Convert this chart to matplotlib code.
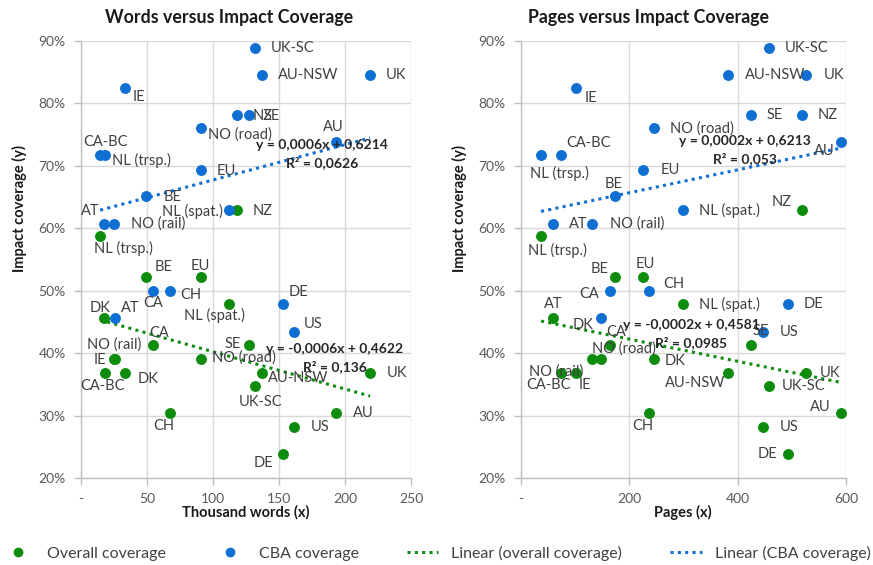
import numpy as np
import matplotlib
matplotlib.use("Agg")
import matplotlib.pyplot as plt
from matplotlib.lines import Line2D
from matplotlib.ticker import FuncFormatter

# ---------------- data ----------------
countries = ["UK", "AU", "US", "DE", "AU-NSW", "UK-SC", "SE", "NZ", "NL (spat.)",
             "NO (road)", "EU", "CH", "CA", "BE", "IE", "DK", "NO (rail)", "AT",
             "CA-BC", "NL (trsp.)"]
thousand_words = [219, 193, 161, 153.3, 137, 132, 127, 118, 111.9,
                  90.7, 90.7, 67.7, 54.3, 49.5, 33.6, 26, 25.3, 17.2,
                  18, 14.5]
pages = [527, 591, 446, 493, 383, 457, 425, 518, 299,
         245, 226, 236, 165, 173, 101, 148, 130.5, 59.7,
         74.5, 37]
cba_coverage = [0.845, 0.738, 0.434, 0.479, 0.845, 0.889, 0.782, 0.782, 0.629,
                0.760, 0.694, 0.500, 0.500, 0.651, 0.825, 0.456, 0.607, 0.607,
                0.717, 0.717]
overall_coverage = [0.368, 0.304, 0.282, 0.239, 0.368, 0.347, 0.413, 0.629, 0.478,
                    0.391, 0.522, 0.304, 0.413, 0.522, 0.368, 0.391, 0.391, 0.456,
                    0.368, 0.587]

# labels as displayed on the chart (per point, same order as countries)
words_cba_labels = ["UK", "AU", "US", "DE", "AU-NSW", "UK-SC", "SE", "NZ", "NL (spat.)",
                    "NO (road)", "EU", "CH", "CA", "BE", "IE", "AT", "NO (rail)", "AT",
                    "CA-BC", "NL (trsp.)"]
words_overall_labels = ["UK", "AU", "US", "DE", "AU-NSW", "UK-SC", "SE", "NZ", "NL (spat.)",
                        "NO (road)", "EU", "CH", "CA", "BE", "DK", "IE", "NO (rail)", "DK",
                        "CA-BC", "NL (trsp.)"]
pages_cba_labels = ["UK", "AU", "US", "DE", "AU-NSW", "UK-SC", "SE", "NZ", "NL (spat.)",
                    "NO (road)", "EU", "CH", "CA", "BE", "IE", "DK", "NO (rail)", "AT",
                    "CA-BC", "NL (trsp.)"]
pages_overall_labels = ["UK", "AU", "US", "DE", "AU-NSW", "UK-SC", "SE", "NZ", "NL (spat.)",
                        "DK", "EU", "CH", "CA", "BE", "IE", "NO (rail)", "NO (road)", "AT",
                        "CA-BC", "NL (trsp.)"]

eq_words_cba = ["y = 0,0006x + 0,6214", "R\u00b2 = 0,0626"]
eq_words_overall = ["y = -0,0006x + 0,4622", "R\u00b2 = 0,136"]
eq_pages_cba = ["y = 0,0002x + 0,6213", "R\u00b2 = 0,053"]
eq_pages_overall = ["y = -0,0002x + 0,4581", "R\u00b2 = 0,0985"]

# ---------------- style ----------------
GREEN = "#0E8C0E"
BLUE = "#0F6FD2"
TXT = "#404040"
TICK = "#595959"
GRID = "#D9D9D9"
SPINE = "#BFBFBF"
FONT = ["Lato", "DejaVu Sans"]
plt.rcParams["font.family"] = FONT
DOT = (0, (1.0, 1.4))

# label offsets in pixels (dx, dy down-positive) and alignment: 'l' left, 'r' right, 'c' center
off_words_cba = [(16, 0, 'l'), (-2, -15, 'c'), (10, -8, 'l'), (5, -12, 'l'), (16, 0, 'l'),
                 (16, 0, 'l'), (15, 1, 'l'), (16, 1, 'l'), (-6, 1, 'r'),
                 (7, 6, 'l'), (16, 1, 'l'), (10, 4, 'l'), (0, 12, 'c'), (17, 1, 'l'), (7, 9, 'l'),
                 (6, -10, 'l'), (17, 0, 'l'), (-4, -13, 'r'),
                 (1, -13, 'c'), (12, 5, 'l')]
off_words_overall = [(17, 0, 'l'), (17, 0, 'l'), (17, 0, 'l'), (-10, 9, 'r'), (6, 5, 'l'),
                     (5, 16, 'c'), (-8, -1, 'r'), (16, 1, 'l'), (-14, 11, 'c'),
                     (11, -1, 'l'), (0, -11, 'c'), (-7, 13, 'c'), (6, -12, 'c'), (17, -10, 'c'),
                     (12, 6, 'l'), (-9, 1, 'r'), (0, -14, 'c'), (-4, -10, 'c'),
                     (-2, 13, 'c'), (23, 12, 'c')]
off_pages_cba = [(17, 0, 'l'), (-6, 9, 'r'), (17, 0, 'l'), (16, 0, 'l'), (16, 0, 'l'),
                 (16, 0, 'l'), (15, 0, 'l'), (16, 0, 'l'), (16, 0, 'l'),
                 (16, 0, 'l'), (17, 0, 'l'), (14, -7, 'l'), (-11, 3, 'r'), (-1, -12, 'c'), (9, 10, 'l'),
                 (-8, 7, 'r'), (18, 0, 'l'), (16, 0, 'l'),
                 (5, -12, 'l'), (18, 18, 'c')]
off_pages_overall = [(13, 0, 'l'), (-10, -6, 'r'), (17, 0, 'l'), (-11, 0, 'r'), (-3, 10, 'r'),
                     (13, 0, 'l'), (10, -14, 'c'), (-10, -8, 'r'), (16, 0, 'l'),
                     (11, 2, 'l'), (2, -13, 'c'), (-6, 13, 'c'), (6, -13, 'c'), (-6, -8, 'r'), (9, 12, 'c'),
                     (-45, 13, 'c'), (32, -10, 'c'), (0, -14, 'c'),
                     (-13, 12, 'c'), (16, 14, 'c')]

W, H = 873, 565
fig = plt.figure(figsize=(W / 100, H / 100), dpi=100)


def fpos(x, y):
    return x / W, 1 - y / H


def setup(ax, xmax, xstep):
    ax.set_xlim(0, xmax)
    ax.set_ylim(0.2, 0.9)
    ax.set_xticks(np.arange(0, xmax + 1, xstep))
    ax.set_yticks(np.arange(0.2, 0.901, 0.1))
    ax.xaxis.set_major_formatter(FuncFormatter(lambda v, p: "-" if v == 0 else f"{v:.0f}"))
    ax.yaxis.set_major_formatter(FuncFormatter(lambda v, p: f"{v*100:.0f}%"))
    ax.grid(True, color=GRID, lw=1)
    ax.set_axisbelow(True)
    for s in ["top", "right"]:
        ax.spines[s].set_visible(False)
    for s in ["left", "bottom"]:
        ax.spines[s].set_color(SPINE)
        ax.spines[s].set_linewidth(1)
    ax.tick_params(axis="both", colors=SPINE, length=5, width=1, labelsize=10,
                   labelcolor=TICK, pad=6)


def draw(ax, x, labels_cba, labels_overall, off_cba, off_overall, eq_cba, eq_over,
         eq_cba_pos, eq_over_pos):
    x = np.asarray(x, float)
    yc = np.asarray(cba_coverage)
    yo = np.asarray(overall_coverage)
    xs = np.array([x.min(), x.max()])
    for yy, col in [(yo, GREEN), (yc, BLUE)]:
        m, b = np.polyfit(x, yy, 1)
        ax.plot(xs, m * xs + b, color=col, lw=2.2, linestyle=DOT,
                dash_capstyle="butt", zorder=2)
    ax.scatter(x, yo, s=62, color=GREEN, zorder=3, linewidths=0)
    ax.scatter(x, yc, s=62, color=BLUE, zorder=3, linewidths=0)
    ha_map = {'l': 'left', 'r': 'right', 'c': 'center'}
    for xv, yv, lab, (dx, dy, a) in zip(x, yc, labels_cba, off_cba):
        ax.annotate(lab, (xv, yv), xytext=(dx * 0.72, -dy * 0.72), textcoords="offset points",
                    ha=ha_map[a], va="center", fontsize=10.5, color=TXT, zorder=4)
    for xv, yv, lab, (dx, dy, a) in zip(x, yo, labels_overall, off_overall):
        ax.annotate(lab, (xv, yv), xytext=(dx * 0.72, -dy * 0.72), textcoords="offset points",
                    ha=ha_map[a], va="center", fontsize=10.5, color=TXT, zorder=4)
    for (px, py), lines in [(eq_cba_pos, eq_cba), (eq_over_pos, eq_over)]:
        fig.text(*fpos(px, py), lines[0], ha="center", va="center", fontsize=10,
                 fontweight="bold", color="#262626", zorder=5)
        fig.text(*fpos(px, py + 18), lines[1], ha="center", va="center", fontsize=10,
                 fontweight="bold", color="#262626", zorder=5)


ax1 = fig.add_axes([81 / W, 1 - 478 / H, 330 / W, 437 / H])
setup(ax1, 250, 50)
draw(ax1, thousand_words, words_cba_labels, words_overall_labels, off_words_cba,
     off_words_overall, eq_words_cba, eq_words_overall, (322, 145), (335, 349))

ax2 = fig.add_axes([521 / W, 1 - 478 / H, 325 / W, 437 / H])
setup(ax2, 600, 200)
draw(ax2, pages, pages_cba_labels, pages_overall_labels, off_pages_cba,
     off_pages_overall, eq_pages_cba, eq_pages_overall, (745, 141), (691, 325))

# titles and axis labels
fig.text(*fpos(229, 18), "Words versus Impact Coverage", ha="center", va="center",
         fontsize=12.8, fontweight="bold", color="#1a1a1a")
fig.text(*fpos(648, 18), "Pages versus Impact Coverage", ha="center", va="center",
         fontsize=12.8, fontweight="bold", color="#1a1a1a")
fig.text(*fpos(19, 209), "Impact coverage (y)", ha="center", va="center", rotation=90,
         fontsize=10.5, fontweight="bold", color="#1a1a1a")
fig.text(*fpos(459, 209), "Impact coverage (y)", ha="center", va="center", rotation=90,
         fontsize=10.5, fontweight="bold", color="#1a1a1a")
fig.text(*fpos(246, 512), "Thousand words (x)", ha="center", va="center",
         fontsize=10.5, fontweight="bold", color="#1a1a1a")
fig.text(*fpos(683, 512), "Pages (x)", ha="center", va="center",
         fontsize=10.5, fontweight="bold", color="#1a1a1a")

# legend
handles = [
    Line2D([], [], marker="o", ls="none", color=GREEN, markersize=6),
    Line2D([], [], marker="o", ls="none", color=BLUE, markersize=6),
    Line2D([], [], color=GREEN, lw=2.2, linestyle=DOT),
    Line2D([], [], color=BLUE, lw=2.2, linestyle=DOT),
]
labels = ["Overall coverage", "CBA coverage", "Linear (overall coverage)", "Linear (CBA coverage)"]
fig.legend(handles, labels, loc="center", bbox_to_anchor=(0.5, 1 - 553 / H), ncol=4,
           frameon=False, fontsize=11.5, labelcolor=TXT, handlelength=2.0,
           columnspacing=3.0, handletextpad=0.8)

fig.savefig("out.png", dpi=100)
